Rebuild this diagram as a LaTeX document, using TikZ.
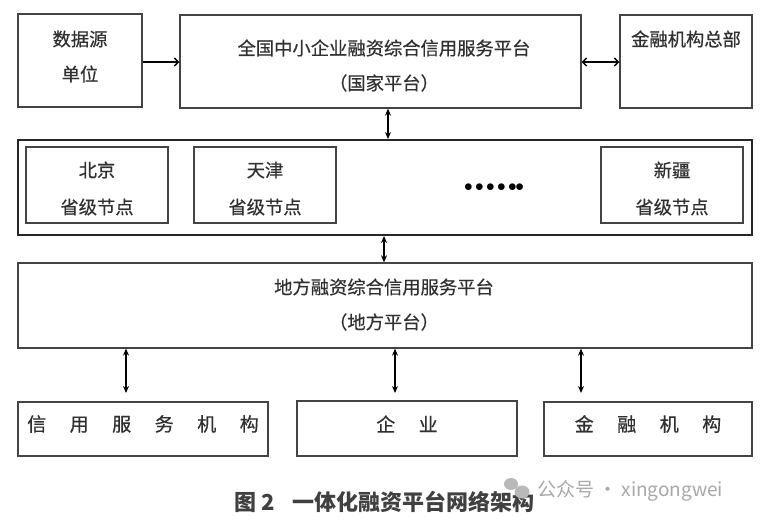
\documentclass[tikz,border=0pt]{standalone}
\usepackage{fontspec}
\newfontfamily\cjk[FakeBold=0.5]{Noto Sans CJK SC}
\newfontfamily\cjkplain{Noto Sans CJK SC}
\usetikzlibrary{arrows.meta}
\definecolor{boxgray}{HTML}{444444}
\definecolor{txtgray}{HTML}{303030}
\definecolor{capgray}{HTML}{404040}
\definecolor{wmgray}{HTML}{A8A8A8}
\begin{document}
\begin{tikzpicture}[x=1pt,y=-1pt,
  box/.style={draw=boxgray, line width=1.3pt, inner sep=0pt},
  outerbox/.style={draw=black!85, line width=2pt, inner sep=0pt},
  txt/.style={font=\cjk\fontsize{18.3}{18.3}\selectfont, text=txtgray, inner sep=0pt},
  wide/.style={font=\cjk\fontsize{19}{19}\selectfont, text=txtgray, inner sep=0pt},
  harr/.style={line width=1.4pt, {Straight Barb[length=4pt,width=8pt]}-{Straight Barb[length=4pt,width=8pt]}},
  rarr/.style={line width=1.4pt, -{Straight Barb[length=4pt,width=8pt]}},
  varr/.style={line width=1.3pt, {Stealth[length=7pt,width=6pt]}-{Stealth[length=7pt,width=6pt]}}
]
\useasboundingbox[fill=white] (0,0) rectangle (769,522);

% top row
\node[box, minimum width=124pt, minimum height=93pt] (src) at (80,60.5) {};
\node[box, minimum width=401pt, minimum height=93pt] (nat) at (380.5,61.5) {};
\node[box, minimum width=132pt, minimum height=93pt] (hq) at (686,61.5) {};
\node[txt] (srct1) at (80,39) {数据源};
\node[txt] (srct2) at (80,74) {单位};
\node[txt] (natt1) at (384,48) {全国中小企业融资综合信用服务平台};
\node[txt] (natt2) at (384,83) {（国家平台）};
\node[txt] (hqt) at (686,39) {金融机构总部};

% provinces
\node[outerbox, minimum width=734pt, minimum height=95pt] (prov) at (385,187.5) {};
\node[box, minimum width=142pt, minimum height=76pt] (bj) at (97,185) {};
\node[box, minimum width=142pt, minimum height=76pt] (tj) at (265,185) {};
\node[box, minimum width=142pt, minimum height=76pt] (xj) at (672,185) {};
\node[txt] (bjt1) at (97,170) {北京};
\node[txt] (bjt2) at (97,207) {省级节点};
\node[txt] (tjt1) at (265,170) {天津};
\node[txt] (tjt2) at (265,207) {省级节点};
\node[txt] (xjt1) at (672,170) {新疆};
\node[txt] (xjt2) at (672,207) {省级节点};
\node[font=\fontsize{17}{17}\selectfont, inner sep=0pt] (dots) at (494,188) {$\bullet\mkern-1.5mu\bullet\mkern-1.5mu\bullet\mkern-1.5mu\bullet\mkern-1.5mu\bullet\mkern-1.5mu\bullet$};

% local platform
\node[box, minimum width=734pt, minimum height=85pt] (loc) at (385,305.5) {};
\node[txt] (loct1) at (384,287) {地方融资综合信用服务平台};
\node[txt] (loct2) at (384,322) {（地方平台）};

% bottom row
\node[box, minimum width=250pt, minimum height=54pt] (cs) at (143,429) {};
\node[box, minimum width=220pt, minimum height=55pt] (ent) at (407,428.5) {};
\node[box, minimum width=208pt, minimum height=54pt] (fin) at (648,429) {};
\node[wide] (cst) at (143,424) {信\hspace{23.5pt}用\hspace{23.5pt}服\hspace{23.5pt}务\hspace{23.5pt}机\hspace{23.5pt}构};
\node[wide] (entt) at (407,424) {企\hspace{23.5pt}业};
\node[wide] (fint) at (648,424) {金\hspace{23.5pt}融\hspace{23.5pt}机\hspace{23.5pt}构};

% connectors
\coordinate (ytop) at (0,62);
\coordinate (v1) at (388,0);
\coordinate (v2) at (384,0);
\coordinate (b1) at (126,0);
\coordinate (b2) at (395,0);
\coordinate (b3) at (581,0);
\coordinate (ybot) at (0,393);
\draw[rarr] (src.east |- ytop) -- (nat.west |- ytop);
\draw[harr] (nat.east |- ytop) -- (hq.west |- ytop);
\draw[varr] (nat.south -| v1) -- (prov.north -| v1);
\draw[varr] (prov.south -| v2) -- (loc.north -| v2);
\draw[varr] (loc.south -| b1) -- (b1 |- ybot);
\draw[varr] (loc.south -| b2) -- (b2 |- ybot);
\draw[varr] (loc.south -| b3) -- (b3 |- ybot);

% caption
\node[font=\cjkplain\bfseries\fontsize{22}{22}\selectfont, text=capgray, inner sep=0pt, anchor=west] (cap) at (234,502) {图 2\hspace{18pt}一体化融资平台网络架构};

% watermark
\fill[wmgray!80] (511,484) ellipse (7pt and 6pt);
\fill[wmgray!80] (522,492) ellipse (7.5pt and 6.5pt);
\node[font=\cjkplain\fontsize{19}{19}\selectfont, text=wmgray, inner sep=0pt, anchor=west] (wm) at (537,491) {公众号 · xingongwei};
\end{tikzpicture}
\end{document}
